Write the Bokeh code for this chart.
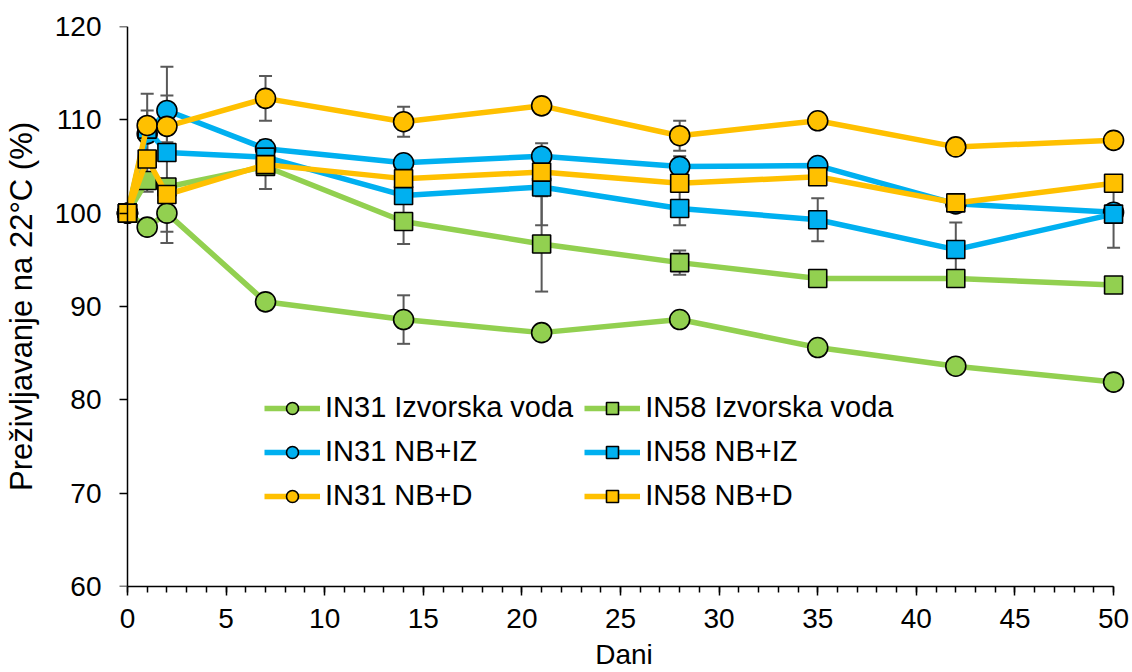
from bokeh.plotting import figure
from bokeh.models import (ColumnDataSource, Whisker, TeeHead, Legend, LegendItem,
                          Range1d, FixedTicker, LinearAxis)
from bokeh.embed import file_html
from bokeh.resources import INLINE

# ---------------- data ----------------
days = [0, 1, 2, 7, 14, 21, 28, 35, 42, 50]
x_ticks = [0, 5, 10, 15, 20, 25, 30, 35, 40, 45, 50]
y_ticks = [60, 70, 80, 90, 100, 110, 120]

names = ["IN31 Izvorska voda", "IN58 Izvorska voda", "IN31 NB+IZ",
         "IN58 NB+IZ", "IN31 NB+D", "IN58 NB+D"]

in31_izv = [100, 98.5, 100.0, 90.5, 88.6, 87.2, 88.6, 85.6, 83.6, 81.9]
in58_izv = [100, 103.5, 102.8, 105.0, 99.1, 96.7, 94.7, 93.0, 93.0, 92.3]
in31_nbiz = [100, 108.5, 111.0, 106.9, 105.4, 106.1, 105.0, 105.1, 101.0, 100.1]
in58_nbiz = [100, 109.0, 106.5, 106.0, 101.9, 102.8, 100.5, 99.3, 96.1, 99.9]
in31_nbd = [100, 109.4, 109.3, 112.3, 109.8, 111.5, 108.3, 109.9, 107.1, 107.8]
in58_nbd = [100, 105.8, 102.0, 105.2, 103.7, 104.4, 103.2, 103.9, 101.1, 103.2]

err_in31_izv = [0, 0, 3.2, 0, 2.6, 0, 0, 0, 0, 0]
err_in58_izv = [0, 0, 4.8, 0, 2.4, 5.1, 1.3, 0, 0, 0]
err_in31_nbiz = [0, 2.5, 4.7, 0, 0, 1.4, 1.1, 0, 0, 0]
err_in58_nbiz = [0, 0, 0, 0, 0, 4.1, 1.8, 2.3, 2.9, 3.6]
err_in31_nbd = [0, 3.4, 3.3, 2.4, 1.6, 0, 1.6, 0, 0, 0]
err_in58_nbd = [0, 3.5, 0, 2.6, 0, 0, 0, 0, 0, 0]

values = [in31_izv, in58_izv, in31_nbiz, in58_nbiz, in31_nbd, in58_nbd]
errors = [err_in31_izv, err_in58_izv, err_in31_nbiz, err_in58_nbiz, err_in31_nbd, err_in58_nbd]

# ---------------- styles ----------------
GREEN, BLUE, ORANGE = "#92D050", "#00B0F0", "#FFC000"
colors = [GREEN, GREEN, BLUE, BLUE, ORANGE, ORANGE]
markers = ["circle", "square", "circle", "square", "circle", "square"]
msizes = [20, 18, 20, 18, 20, 18]
FONT = "Liberation Sans"

p = figure(width=1132, height=672, output_backend="svg", toolbar_location=None,
           x_range=Range1d(-0.607, 50.96), y_range=Range1d(60, 120),
           min_border_left=112, min_border_right=0, min_border_top=26,
           min_border_bottom=84)
p.outline_line_color = None
p.xgrid.grid_line_color = None
p.ygrid.grid_line_color = None
p.background_fill_color = "white"

# x axis
xa = p.xaxis[0]
xa.ticker = FixedTicker(ticks=x_ticks, minor_ticks=list(range(0, 51)))
xa.bounds = (0, 50)
xa.axis_line_color = "black"
xa.axis_line_width = 1.5
xa.major_tick_line_color = "black"
xa.major_tick_line_width = 1.5
xa.minor_tick_line_color = "black"
xa.minor_tick_line_width = 1.5
xa.major_tick_in = 0
xa.minor_tick_in = 0
xa.major_tick_out = 9
xa.minor_tick_out = 6
xa.major_label_text_font = FONT
xa.major_label_text_font_size = "28px"
xa.major_label_text_color = "black"
xa.major_label_standoff = 13
xa.axis_label = "Dani"
xa.axis_label_text_font = FONT
xa.axis_label_text_font_size = "28px"
xa.axis_label_text_font_style = "normal"
xa.axis_label_text_color = "black"
xa.axis_label_standoff = 8

# y axis: labels at the frame edge, line and ticks at x = 0
ya = p.yaxis[0]
ya.ticker = FixedTicker(ticks=y_ticks, minor_ticks=[])
ya.axis_line_color = None
ya.major_tick_line_color = None
ya.minor_tick_line_color = None
ya.major_tick_in = 0
ya.major_tick_out = 0
ya.minor_tick_in = 0
ya.minor_tick_out = 0
ya.major_label_text_font = FONT
ya.major_label_text_font_size = "28px"
ya.major_label_text_color = "black"
ya.major_label_standoff = 14
ya.axis_label = "Preživljavanje na 22°C (%)"
ya.axis_label_text_font = FONT
ya.axis_label_text_font_size = "31px"
ya.axis_label_text_font_style = "normal"
ya.axis_label_text_color = "black"
ya.axis_label_standoff = 13

ya2 = LinearAxis(ticker=FixedTicker(ticks=y_ticks, minor_ticks=[]), fixed_location=0,
                 axis_line_color="black", axis_line_width=1.5,
                 major_tick_line_color="black", major_tick_line_width=1.5,
                 major_tick_in=0, major_tick_out=8, minor_tick_line_color=None,
                 major_label_text_color=None)
p.add_layout(ya2, "left")

# series
items = []
for name, vals, errs, col, mk, ms in zip(names, values, errors, colors, markers, msizes):
    ex = [d for d, e in zip(days, errs) if e > 0]
    ey = [v for v, e in zip(vals, errs) if e > 0]
    ee = [e for e in errs if e > 0]
    esrc = ColumnDataSource(dict(x=ex, lower=[a - b for a, b in zip(ey, ee)],
                                 upper=[a + b for a, b in zip(ey, ee)]))
    w = Whisker(source=esrc, base="x", lower="lower", upper="upper",
                line_color="#595959", line_width=2, level="underlay",
                upper_head=TeeHead(size=13, line_color="#595959", line_width=2),
                lower_head=TeeHead(size=13, line_color="#595959", line_width=2))
    p.add_layout(w)
    src = ColumnDataSource(dict(x=days, y=vals))
    ln = p.line("x", "y", source=src, line_color=col, line_width=5.5)
    sc = p.scatter("x", "y", source=src, marker=mk, size=ms, fill_color=col,
                   line_color="black", line_width=1.6)
    items.append(LegendItem(label=name, renderers=[ln, sc]))

legend = Legend(items=items, orientation="horizontal", ncols=2,
                location=(149, 74), glyph_width=56, glyph_height=30,
                label_standoff=5, spacing=11, padding=0, margin=0,
                label_text_font=FONT, label_text_font_size="29px",
                label_text_color="black",
                background_fill_alpha=0, border_line_alpha=0)
p.add_layout(legend)

open("out.html", "w").write(file_html(p, INLINE))
